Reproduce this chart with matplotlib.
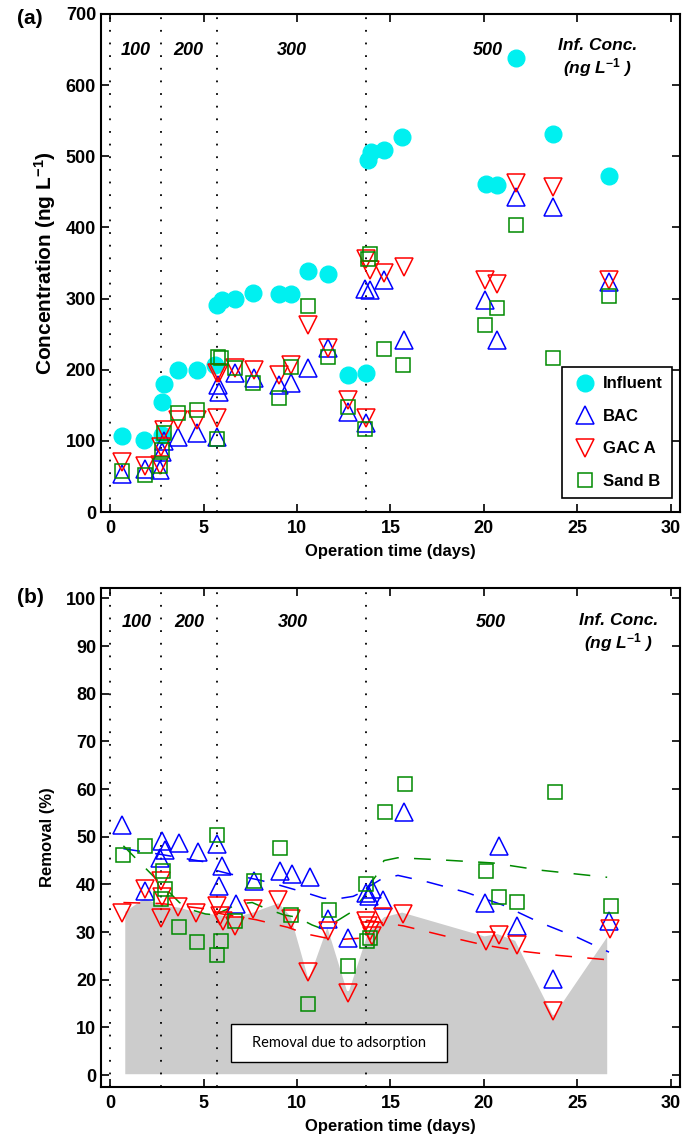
import matplotlib
matplotlib.use("Agg")
import matplotlib.pyplot as plt
from matplotlib.patches import Rectangle

plt.rcParams.update({
    "font.family": "Liberation Sans",
    "font.weight": "bold",
    "axes.labelweight": "bold",
    "mathtext.fontset": "custom",
    "mathtext.rm": "Liberation Sans:bold",
    "mathtext.it": "Liberation Sans:italic:bold",
    "mathtext.bf": "Liberation Sans:bold",
})

# ── panel (a): concentrations (ng/L) ─────────────────────────────────────────
inf_t = [0.6, 1.8, 2.75, 2.75, 2.9, 3.65, 4.65, 5.6, 5.7, 6.0, 6.7, 7.65, 9.05, 9.7,
         10.6, 11.65, 12.75, 13.7, 13.8, 13.95, 14.65, 15.6, 20.1, 20.7, 21.7, 23.7, 26.7]
inf_c = [107, 101, 108, 155, 180, 200, 200, 207, 291, 298, 299, 308, 306, 307,
         339, 335, 192, 195, 495, 506, 509, 527, 461, 460, 638, 531, 472]

bac_t = [0.65, 1.85, 2.65, 2.75, 2.9, 3.65, 4.65, 5.7, 5.75, 5.8, 6.7, 7.7, 9.05, 9.7,
         10.6, 11.65, 12.75, 13.7, 13.65, 13.9, 14.65, 15.7, 20.05, 20.7, 21.7, 23.7, 26.7]
bac_c = [53, 61, 59, 85, 100, 106, 111, 106, 178, 168, 195, 188, 178, 181,
         202, 230, 141, 125, 314, 312, 326, 242, 298, 242, 443, 429, 324]

gac_t = [0.65, 1.85, 2.65, 2.7, 2.85, 3.65, 4.65, 5.7, 5.7, 5.8, 6.7, 7.7, 9.05, 9.7,
         10.6, 11.65, 12.75, 13.7, 13.7, 13.9, 14.65, 15.7, 20.05, 20.7, 21.7, 23.7, 26.7]
gac_c = [71, 64, 66, 92, 115, 129, 129, 132, 195, 195, 202, 200, 193, 207,
         263, 231, 157, 132, 355, 340, 336, 345, 326, 321, 462, 457, 326]

sand_t = [0.65, 1.85, 2.65, 2.75, 2.85, 3.65, 4.65, 5.7, 5.75, 5.9, 6.7, 7.65, 9.05, 9.7,
          10.6, 11.65, 12.75, 13.65, 13.8, 13.9, 14.65, 15.65, 20.05, 20.7, 21.7, 23.7, 26.7]
sand_c = [57, 52, 64, 87, 111, 139, 144, 102, 218, 216, 202, 182, 160, 204,
          289, 218, 148, 117, 355, 362, 229, 206, 263, 287, 403, 216, 304]

# ── panel (b): removal (%) ───────────────────────────────────────────────────
bac_r_t = [0.65, 1.85, 2.65, 2.75, 2.95, 3.7, 4.7, 5.7, 5.8, 6.0, 6.75, 7.7, 9.1, 9.75,
           10.7, 11.65, 12.75, 13.7, 13.85, 14.0, 14.6, 15.75, 20.05, 20.8, 21.75, 23.7, 26.7]
bac_r = [52.4, 38.6, 45.6, 49.2, 47.2, 48.7, 46.9, 48.4, 39.7, 43.9, 35.8, 40.8, 42.8, 42.1,
         41.6, 32.7, 28.8, 38.3, 37.5, 39.0, 36.8, 55.1, 36.2, 48.1, 31.3, 20.1, 32.3]

gac_r_t = [0.65, 1.85, 2.7, 2.75, 2.7, 3.65, 4.6, 5.7, 5.85, 6.05, 6.7, 7.65, 9.0, 9.7,
           10.6, 11.65, 12.75, 13.7, 13.8, 13.9, 14.0, 14.6, 15.65, 20.1, 20.8, 21.75, 23.7, 26.75]
gac_r = [34.0, 39.0, 40.8, 37.3, 33.0, 35.2, 34.1, 35.5, 33.4, 32.4, 31.2, 34.8, 36.8, 32.7,
         21.6, 30.2, 17.3, 32.3, 31.3, 30.2, 29.2, 33.2, 33.8, 28.2, 29.3, 27.2, 13.5, 30.6]

sand_r_t = [0.68, 1.87, 2.7, 2.8, 2.95, 3.7, 4.65, 5.7, 5.72, 5.95, 6.7, 7.7, 9.1, 9.7,
            10.6, 11.7, 12.75, 13.7, 13.75, 13.9, 14.73, 15.76, 20.1, 20.8, 21.8, 23.8, 26.8]
sand_r = [46.1, 48.1, 36.9, 42.8, 39.0, 31.1, 28.0, 25.1, 50.4, 28.1, 32.3, 40.8, 47.7, 33.5,
          14.9, 34.6, 22.9, 40.1, 28.1, 28.8, 55.1, 61.0, 42.8, 37.3, 36.4, 59.4, 35.5]

# removal due to adsorption (grey area, upper edge)
ads_t = [0.7, 1.8, 2.7, 3.7, 4.6, 5.7, 6.7, 7.6, 9.0, 9.7, 10.6, 11.6, 12.7, 13.7,
         14.6, 15.6, 20.0, 20.7, 21.7, 23.7, 26.65]
ads_v = [34.5, 37.5, 36.0, 35.5, 34.5, 34.0, 33.5, 34.5, 36.5, 33.5, 21.0, 32.0, 18.0, 30.0,
         33.5, 34.5, 29.5, 30.0, 28.5, 13.0, 30.0]

# dashed trend lines per concentration phase
bac_fit = [([0.7, 2.7, 5.7], [47.5, 46.3, 44.3]),
           ([5.7, 6.4, 8.0, 9.0, 10.6, 11.4, 12.2, 13.0, 13.7],
            [42.9, 42.2, 40.9, 39.9, 38.1, 37.1, 37.0, 37.5, 38.8]),
           ([13.7, 14.5, 15.4, 17.0, 19.0, 21.0, 23.0, 25.0, 26.7],
            [39.2, 41.1, 41.9, 40.5, 38.4, 35.7, 32.0, 28.9, 25.8])]
gac_fit = [([0.7, 2.7, 5.7], [36.2, 36.0, 34.6]),
           ([5.7, 7.8, 9.5, 10.5, 11.5, 12.5, 13.7], [34.0, 32.6, 31.0, 29.6, 28.8, 28.5, 28.8]),
           ([13.7, 15.7, 18.0, 20.0, 22.0, 24.0, 26.6], [32.5, 31.3, 29.1, 27.3, 26.0, 25.1, 24.2])]
sand_fit = [([0.7, 3.7, 4.4, 5.1, 5.7], [48.1, 36.2, 34.6, 33.8, 33.6]),
            ([5.7, 6.25, 6.8, 7.6, 8.3, 9.3, 10.0, 10.8, 11.4, 12.2, 12.9, 13.7],
             [33.8, 34.8, 35.9, 36.2, 35.0, 33.6, 33.1, 31.5, 30.6, 32.5, 34.2, 38.0]),
            ([13.7, 14.3, 14.65, 15.4, 17.5, 20.5, 23.0, 26.6],
             [39.0, 42.2, 45.0, 45.6, 45.2, 44.5, 43.0, 41.5])]

phase_t = [0, 2.7, 5.7, 13.7]
phase_lbl = ["100", "200", "300", "500"]

c_inf, c_bac, c_gac, c_sand = "#00f0f0", "#0000ff", "#ff0000", "#008a00"

fig = plt.figure(figsize=(6.85, 11.47), dpi=100)
ax1 = fig.add_axes([0.1474, 0.5536, 0.8453, 0.4342])
ax2 = fig.add_axes([0.1474, 0.0523, 0.8453, 0.4351])

mk = dict(ls="none", mfc="none", mew=1.1)
for ax in (ax1, ax2):
    for t in phase_t:
        ax.axvline(t, color="black", ls=(0, (1, 6)), lw=1.3, zorder=1)
    ax.set_xlim(-0.5, 30.5)
    ax.set_xticks(range(0, 31, 5))
    ax.tick_params(direction="in", top=True, right=True, length=6, width=1.2,
                   labelsize=13)
    ax.tick_params(axis="x", pad=6)
    for s in ax.spines.values():
        s.set_linewidth(1.5)
    ax.set_xlabel("Operation time (days)", fontsize=12, labelpad=5)

# ── (a) ──
ax1.plot(inf_t, inf_c, "o", color=c_inf, ms=12, ls="none", label="Influent", zorder=3)
ax1.plot(bac_t, bac_c, "^", mec=c_bac, ms=13, label="BAC", zorder=4, **mk)
ax1.plot(gac_t, gac_c, "v", mec=c_gac, ms=13, label="GAC A", zorder=4, **mk)
ax1.plot(sand_t, sand_c, "s", mec=c_sand, ms=9.5, label="Sand B", zorder=4, **mk)
ax1.set_ylim(0, 700)
ax1.set_yticks(range(0, 701, 100))
ax1.set_ylabel("Concentration (ng L$^{\\mathbf{-1}}$)", fontsize=15, labelpad=6)
leg = ax1.legend(loc="lower right", bbox_to_anchor=(0.986, 0.028), fontsize=12,
                 fancybox=False, framealpha=1, edgecolor="black", borderaxespad=0,
                 labelspacing=1.05, handletextpad=0.3, handlelength=1.6, borderpad=0.55)
leg.get_frame().set_linewidth(1.2)

lbl_x = [1.34, 4.2, 9.7, 20.2]
for x, s in zip(lbl_x, phase_lbl):
    ax1.text(x, 649, s, ha="center", va="center", fontsize=13, style="italic")
ax1.text(26.07, 637, "Inf. Conc.\n(ng L$^{\\mathit{-1}}$ )", ha="center", va="center",
         fontsize=12.5, style="italic", linespacing=1.2)

# ── (b) ──
ax2.fill_between(ads_t, 0, ads_v, facecolor="#cccccc", edgecolor="white", lw=2, zorder=0)
for seg_t, seg_v in bac_fit:
    ax2.plot(seg_t, seg_v, color=c_bac, lw=1.1, ls=(0, (11, 10)), zorder=2)
for seg_t, seg_v in gac_fit:
    ax2.plot(seg_t, seg_v, color=c_gac, lw=1.1, ls=(0, (11, 10)), zorder=2)
for seg_t, seg_v in sand_fit:
    ax2.plot(seg_t, seg_v, color=c_sand, lw=1.1, ls=(0, (11, 10)), zorder=2)
ax2.plot(bac_r_t, bac_r, "^", mec=c_bac, ms=13, zorder=4, **mk)
ax2.plot(gac_r_t, gac_r, "v", mec=c_gac, ms=13, zorder=4, **mk)
ax2.plot(sand_r_t, sand_r, "s", mec=c_sand, ms=9.5, zorder=4, **mk)
ax2.set_ylim(-2.5, 102.2)
ax2.set_yticks(range(0, 101, 10))
ax2.set_ylabel("Removal (%)", fontsize=12, labelpad=8)

lbl_x2 = [1.39, 4.25, 9.78, 20.35]
for x, s in zip(lbl_x2, phase_lbl):
    ax2.text(x, 94.9, s, ha="center", va="center", fontsize=13, style="italic")
ax2.text(27.2, 92.7, "Inf. Conc.\n(ng L$^{\\mathit{-1}}$ )", ha="center", va="center",
         fontsize=12.5, style="italic", linespacing=1.2)

ax2.add_patch(Rectangle((6.48, 2.8), 11.57, 8.0, facecolor="white", edgecolor="black",
                        lw=1.0, zorder=5))
ax2.text(12.27, 6.8, "Removal due to adsorption", ha="center", va="center",
         fontsize=10.5, family="Lato", weight="normal", zorder=6)

fig.text(0.044, 0.984, "(a)", fontsize=15, ha="center", va="center")
fig.text(0.044, 0.479, "(b)", fontsize=15, ha="center", va="center")

fig.savefig("out.png", dpi=100)
